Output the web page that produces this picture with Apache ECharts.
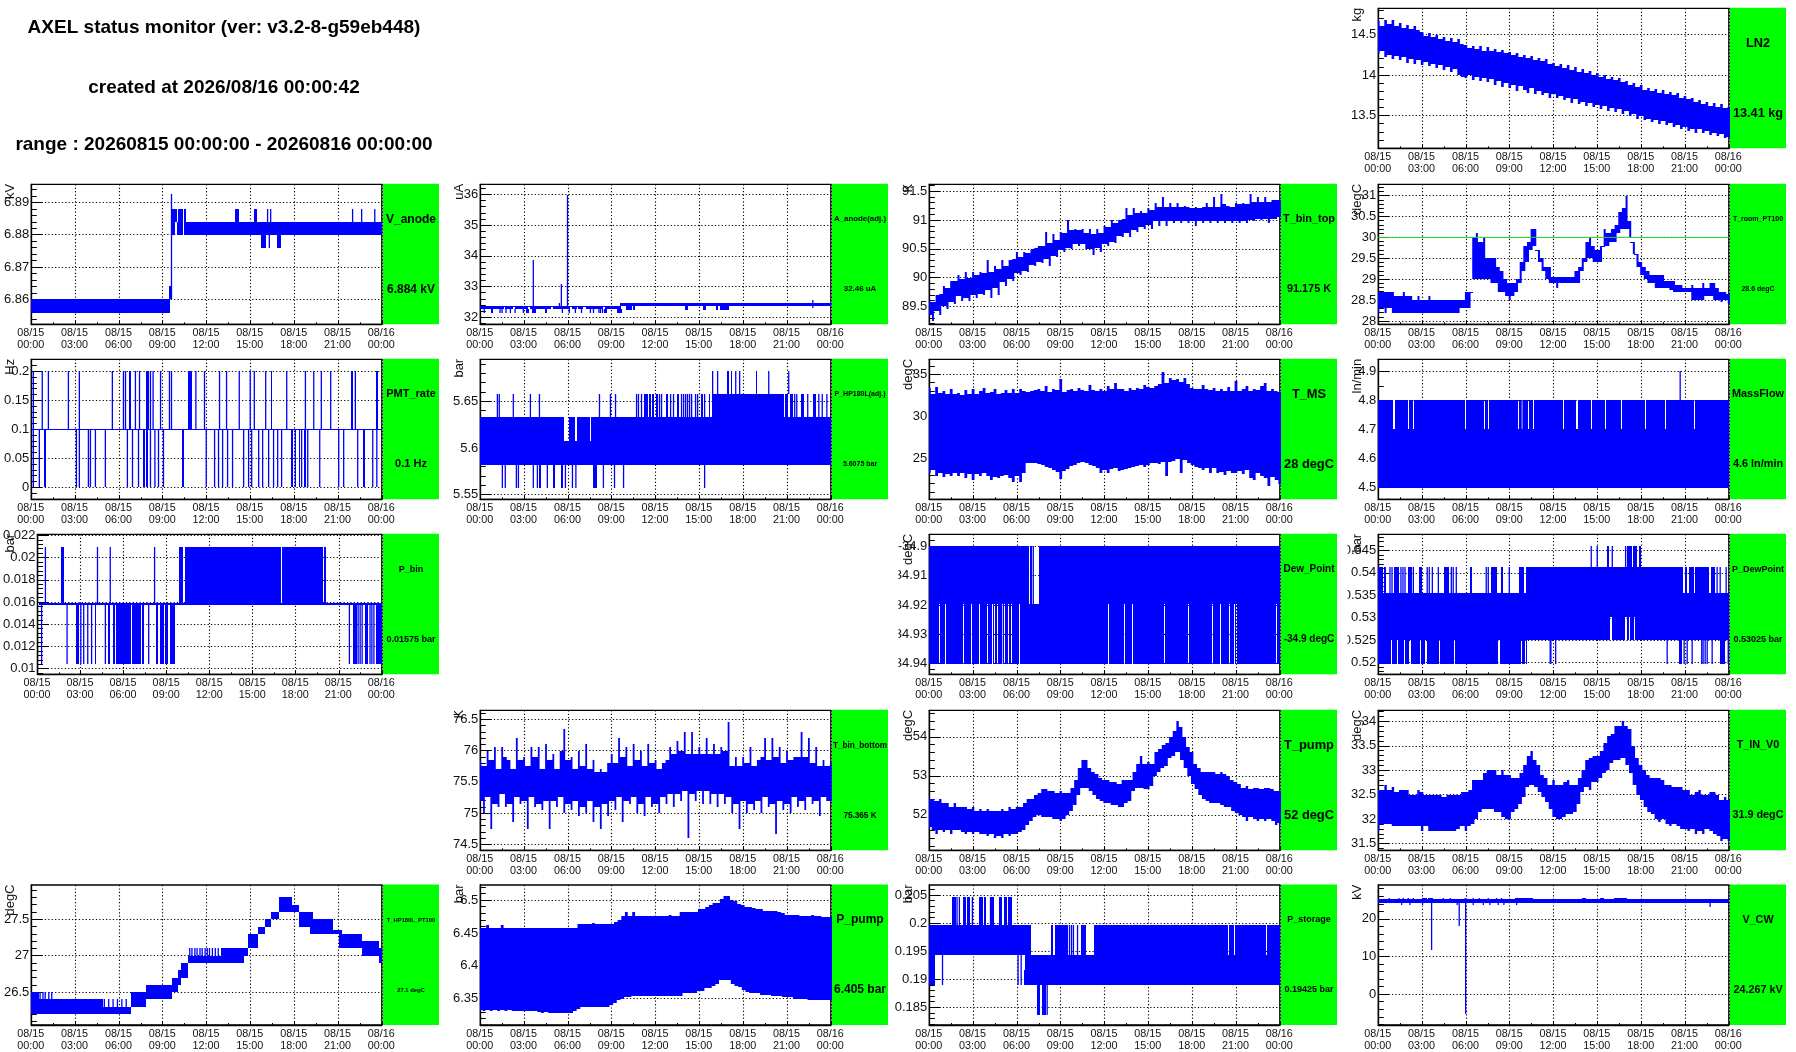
<!DOCTYPE html>
<html><head><meta charset="utf-8">
<style>html,body{margin:0;padding:0;background:#fff}#c{width:1796px;height:1052px}</style>
<script src="https://cdn.jsdelivr.net/npm/echarts@6/dist/echarts.min.js"></script>
</head><body><div id="c"></div>
<script>
// ---------- header and tick labels ----------
const headerLines = ["AXEL status monitor (ver: v3.2-8-g59eb448)","created at 2026/08/16 00:00:42","range : 20260815 00:00:00 - 20260816 00:00:00"];
const xDates = ["08/15","08/15","08/15","08/15","08/15","08/15","08/15","08/15","08/16"];
const xTimes = ["00:00","03:00","06:00","09:00","12:00","15:00","18:00","21:00","00:00"];

// ---------- envelope readings, one value every 15 minutes ----------
const LN2_hi=[14.66,14.60,14.68,14.63,14.67,14.60,14.64,14.58,14.62,14.57,14.60,14.55,
14.53,14.48,14.51,14.47,14.49,14.44,14.47,14.42,14.46,14.40,14.44,14.38,
14.37,14.33,14.36,14.32,14.35,14.30,14.34,14.29,14.32,14.28,14.31,14.27,
14.28,14.24,14.27,14.22,14.25,14.21,14.23,14.18,14.21,14.17,14.19,14.14,
14.15,14.11,14.13,14.09,14.12,14.06,14.10,14.04,14.07,14.02,14.05,14.00,
14.02,13.97,14.00,13.95,13.98,13.94,13.96,13.91,13.93,13.88,13.90,13.85,
13.87,13.82,13.84,13.80,13.83,13.78,13.81,13.76,13.79,13.75,13.78,13.72,
13.74,13.70,13.72,13.67,13.69,13.64,13.67,13.62,13.65,13.60,13.64,13.59,13.60];
const LN2_lo=[14.26,14.30,14.22,14.25,14.19,14.23,14.18,14.22,14.15,14.20,14.14,14.18,
14.12,14.16,14.11,14.14,14.08,14.12,14.06,14.10,14.03,14.07,14.00,13.98,
13.96,14.00,13.94,13.98,13.93,13.96,13.91,13.95,13.88,13.93,13.85,13.90,
13.84,13.88,13.80,13.86,13.82,13.78,13.84,13.76,13.80,13.75,13.78,13.72,
13.76,13.71,13.74,13.69,13.72,13.66,13.70,13.64,13.67,13.62,13.65,13.60,
13.63,13.58,13.62,13.56,13.59,13.54,13.58,13.52,13.55,13.50,13.52,13.46,
13.49,13.44,13.46,13.42,13.44,13.40,13.43,13.38,13.41,13.36,13.38,13.34,
13.36,13.31,13.34,13.29,13.33,13.28,13.31,13.26,13.29,13.25,13.27,13.22,13.24];
const T_room_hi=[28.7,28.7,28.7,28.7,28.7,28.6,28.6,28.7,28.6,28.6,28.5,28.6,
28.5,28.5,28.6,28.5,28.5,28.5,28.5,28.5,28.5,28.5,28.5,28.5,
28.7,28.7,30.0,30.1,29.9,30.0,29.5,29.5,29.5,29.3,29.2,29.0,
28.9,28.9,29.0,29.4,29.8,29.9,30.2,30.2,29.7,29.5,29.3,29.3,
29.05,29.05,29.05,29.05,29.05,29.05,29.2,29.3,29.5,29.9,30.0,29.8,
29.7,29.8,30.2,30.1,30.2,30.3,30.6,30.7,31.0,30.4,29.9,29.6,
29.4,29.3,29.2,29.1,29.1,29.1,29.1,28.95,28.95,28.95,28.85,28.85,
28.8,28.8,28.85,28.8,28.8,28.9,28.8,28.9,28.9,28.8,28.7,28.7,28.65];
const T_room_lo=[28.2,28.3,28.2,28.3,28.2,28.2,28.2,28.2,28.2,28.2,28.2,28.2,
28.2,28.2,28.2,28.2,28.2,28.2,28.2,28.2,28.2,28.2,28.2,28.3,
28.3,28.3,29.0,29.0,29.0,29.0,29.0,28.9,28.9,28.7,28.7,28.6,
28.5,28.6,28.7,28.9,29.2,29.4,29.7,29.8,29.4,29.2,29.0,28.9,
28.9,28.8,28.9,28.9,28.9,28.9,28.9,28.9,29.2,29.4,29.5,29.4,
29.4,29.4,29.8,29.8,29.9,29.9,30.1,30.2,30.2,30.0,29.6,29.3,
29.1,29.0,28.9,28.9,28.8,28.8,28.8,28.8,28.75,28.7,28.7,28.7,
28.7,28.7,28.5,28.5,28.5,28.5,28.6,28.6,28.5,28.5,28.45,28.5,28.4];
const T_pump_hi=[52.4,52.4,52.35,52.4,52.3,52.3,52.2,52.3,52.2,52.2,52.2,52.15,
52.2,52.1,52.15,52.1,52.15,52.1,52.1,52.1,52.15,52.1,52.2,52.15,
52.2,52.2,52.3,52.4,52.4,52.5,52.55,52.65,52.65,52.6,52.6,52.55,
52.6,52.55,52.55,52.7,52.9,53.2,53.4,53.4,53.2,53.1,53.05,52.95,
52.9,52.9,52.85,52.85,52.8,52.9,52.9,52.9,53.1,53.3,53.5,53.3,
53.35,53.3,53.6,53.7,53.8,53.85,54.0,54.15,54.4,54.25,54.0,53.75,
53.6,53.3,53.2,53.1,53.1,53.1,53.1,53.05,53.1,53.05,53.0,52.9,
52.85,52.8,52.7,52.75,52.65,52.7,52.7,52.65,52.7,52.7,52.65,52.6,52.6];
const T_pump_lo=[51.7,51.6,51.5,51.6,51.55,51.6,51.5,51.6,51.6,51.55,51.5,51.55,
51.5,51.55,51.5,51.5,51.45,51.5,51.4,51.45,51.4,51.5,51.45,51.5,
51.5,51.55,51.6,51.75,51.85,51.95,52.0,51.95,51.95,51.95,51.9,51.9,
51.85,51.9,52.0,52.1,52.25,52.5,52.7,52.7,52.6,52.5,52.4,52.35,
52.3,52.3,52.25,52.25,52.2,52.2,52.3,52.35,52.6,52.7,52.7,52.65,
52.65,52.75,53.0,53.1,53.2,53.25,53.45,53.5,53.6,53.4,53.2,53.0,
52.8,52.65,52.5,52.4,52.35,52.3,52.3,52.3,52.25,52.2,52.2,52.1,
52.05,52.0,51.95,51.85,51.95,51.9,51.85,51.9,51.85,51.9,51.85,51.75,51.8];
const T_IN_hi=[32.6,32.6,32.7,32.6,32.65,32.55,32.6,32.6,32.6,32.5,32.5,32.6,
32.55,32.5,32.5,32.5,32.5,32.5,32.45,32.5,32.5,32.5,32.5,32.55,
32.55,32.6,32.8,32.8,32.8,32.95,33.0,33.0,33.0,32.9,33.0,32.9,
32.9,32.85,32.85,32.95,33.1,33.3,33.4,33.2,33.1,32.9,32.85,32.7,
32.8,32.7,32.7,32.75,32.8,32.7,32.7,32.85,33.0,33.2,33.25,33.3,
33.3,33.4,33.55,33.7,33.75,33.9,33.9,34.0,33.9,33.85,33.5,33.25,
33.1,33.0,32.9,32.85,32.85,32.85,32.8,32.7,32.7,32.65,32.65,32.65,
32.6,32.6,32.5,32.55,32.6,32.5,32.5,32.55,32.55,32.5,32.4,32.45,32.4];
const T_IN_lo=[31.75,31.9,31.9,31.9,31.85,31.85,31.85,31.85,31.85,31.85,31.85,31.85,
31.75,31.85,31.75,31.75,31.75,31.75,31.75,31.75,31.75,31.75,31.8,31.85,
31.75,31.85,31.9,32.0,32.15,32.2,32.2,32.2,32.15,32.15,32.05,32.0,
32.0,32.15,32.2,32.3,32.45,32.65,32.7,32.65,32.55,32.45,32.35,32.2,
32.05,32.0,32.0,32.05,32.1,32.1,32.15,32.3,32.55,32.65,32.6,32.75,
32.75,32.85,32.95,33.0,33.15,33.2,33.2,33.25,33.1,32.95,32.7,32.5,
32.4,32.25,32.15,32.1,32.0,31.95,32.0,31.9,31.85,31.9,31.85,31.8,
31.8,31.75,31.8,31.7,31.75,31.7,31.8,31.75,31.7,31.65,31.55,31.6,31.55];
const T_top_hi=[89.6,89.58,89.7,89.72,89.85,89.82,89.95,89.95,90.05,89.98,90.1,90.0,
90.1,90.05,90.1,90.08,90.3,90.1,90.2,90.15,90.3,90.2,90.3,90.32,
90.45,90.35,90.45,90.42,90.5,90.52,90.55,90.55,90.8,90.6,90.75,90.65,
90.8,90.78,91.0,90.82,90.85,90.82,90.85,90.78,90.85,90.75,90.85,90.78,
90.9,90.88,91.0,90.95,91.0,91.02,91.2,91.08,91.2,91.12,91.15,91.12,
91.2,91.18,91.3,91.22,91.4,91.22,91.3,91.22,91.3,91.22,91.25,91.22,
91.2,91.22,91.2,91.22,91.3,91.22,91.4,91.22,91.45,91.28,91.25,91.22,
91.3,91.28,91.3,91.28,91.45,91.32,91.4,91.32,91.4,91.32,91.35,91.35,91.35];
const T_top_lo=[89.35,89.25,89.42,89.35,89.5,89.45,89.58,89.55,89.68,89.6,89.65,89.6,
89.7,89.65,89.72,89.7,89.78,89.65,89.82,89.7,89.92,89.85,89.98,89.95,
90.08,90.05,90.12,90.1,90.22,90.2,90.28,90.25,90.32,90.2,90.38,90.35,
90.48,90.45,90.52,90.5,90.58,90.55,90.58,90.5,90.5,90.4,90.52,90.45,
90.58,90.55,90.62,90.6,90.72,90.7,90.78,90.7,90.82,90.8,90.88,90.85,
90.92,90.85,90.98,90.9,90.98,90.9,90.98,90.95,90.98,90.95,90.98,90.95,
90.98,90.9,90.98,90.95,90.98,90.95,90.98,90.95,90.98,90.95,90.98,90.95,
90.98,90.95,90.98,90.95,91.0,90.98,91.02,91.0,91.02,90.95,91.02,91.02,91.05];
const T_MS_hi=[33.4,32.6,33.5,32.8,33.0,32.7,33.3,32.6,32.8,32.5,33.1,32.6,
33.2,32.7,33.0,33.4,32.8,32.9,33.3,32.7,32.8,33.1,32.8,33.3,
32.8,33.3,33.0,32.9,33.0,33.1,33.2,33.0,33.6,32.9,33.2,33.1,
34.4,32.9,33.1,33.2,33.0,33.4,33.1,33.0,33.7,33.1,33.0,33.3,
33.0,33.6,33.2,34.0,33.3,33.2,33.0,33.4,33.1,33.4,33.2,33.7,
33.5,33.4,33.6,33.9,35.3,34.0,34.6,34.3,34.4,34.1,34.6,33.9,
33.4,33.3,33.2,33.7,33.3,33.1,33.4,33.0,33.2,33.0,33.5,33.0,
34.2,33.0,33.2,33.6,33.0,33.3,33.1,33.6,34.0,33.0,33.2,33.0,32.9];
const T_MS_lo=[23.3,23.6,22.9,23.3,22.8,23.1,22.9,23.2,22.9,23.2,22.7,23.1,
22.4,23.1,22.9,23.3,22.9,22.4,22.8,22.7,22.9,23.0,22.6,22.2,
22.9,22.2,23.3,24.4,24.4,24.4,24.3,24.2,24.0,23.8,23.6,23.4,
22.5,23.5,23.7,24.1,24.2,24.5,24.6,24.5,24.2,24.1,23.9,23.3,
23.6,23.2,23.7,23.8,23.5,23.6,23.7,23.9,24.0,24.1,24.2,24.0,
24.2,24.5,24.5,24.3,24.6,22.9,24.6,24.7,24.9,23.3,24.8,24.4,
24.2,24.0,23.9,23.6,23.8,23.3,23.8,23.2,23.4,23.0,23.5,23.3,
23.2,23.5,23.1,23.6,22.7,22.4,23.2,22.9,22.6,21.7,22.8,22.4,22.0];
const P_pump_hi=[6.458,6.458,6.462,6.458,6.458,6.458,6.462,6.458,6.458,6.458,6.458,6.458,
6.458,6.457,6.458,6.457,6.458,6.457,6.458,6.457,6.458,6.457,6.458,6.458,
6.458,6.458,6.458,6.464,6.464,6.464,6.464,6.465,6.464,6.464,6.464,6.464,
6.464,6.466,6.470,6.476,6.482,6.476,6.482,6.476,6.476,6.476,6.476,6.476,
6.476,6.476,6.476,6.476,6.478,6.476,6.476,6.482,6.482,6.482,6.482,6.482,
6.487,6.487,6.490,6.492,6.496,6.496,6.502,6.506,6.506,6.500,6.498,6.494,
6.492,6.490,6.490,6.488,6.486,6.486,6.484,6.484,6.484,6.484,6.482,6.480,
6.478,6.478,6.478,6.478,6.476,6.476,6.476,6.478,6.476,6.476,6.474,6.474,6.474];
const P_pump_lo=[6.333,6.331,6.333,6.331,6.333,6.331,6.333,6.331,6.333,6.331,6.331,6.331,
6.331,6.331,6.331,6.331,6.330,6.329,6.330,6.329,6.328,6.329,6.328,6.329,
6.328,6.329,6.331,6.335,6.337,6.337,6.337,6.337,6.337,6.337,6.337,6.338,
6.340,6.343,6.348,6.350,6.352,6.352,6.354,6.354,6.354,6.354,6.354,6.354,
6.354,6.354,6.354,6.354,6.354,6.354,6.354,6.354,6.358,6.358,6.358,6.358,
6.362,6.362,6.366,6.366,6.370,6.372,6.378,6.378,6.378,6.372,6.370,6.368,
6.364,6.360,6.358,6.358,6.358,6.356,6.356,6.356,6.354,6.354,6.354,6.352,
6.352,6.352,6.350,6.350,6.350,6.350,6.348,6.348,6.348,6.348,6.348,6.348,6.348];
const T_bot_hi=[75.85,75.75,76.0,75.85,76.05,75.7,76.05,75.9,75.85,75.7,76.2,75.85,
75.9,75.75,76.05,75.9,76.05,75.7,76.1,75.85,75.95,75.7,76.0,76.35,
75.85,75.9,75.7,76.0,75.75,76.1,75.7,75.85,75.65,75.7,75.65,75.8,
75.95,75.8,76.2,75.9,76.05,75.75,76.1,75.85,76.0,75.75,76.1,75.8,
75.85,75.7,75.8,75.85,76.05,75.95,76.15,76.0,76.3,75.95,76.3,75.95,
76.05,75.95,76.2,75.95,76.1,75.95,76.05,76.0,76.45,75.75,75.9,75.75,
75.9,75.8,76.05,75.75,75.85,75.9,76.2,75.85,76.2,75.9,76.05,75.8,
76.0,75.85,75.9,75.9,76.3,75.9,76.2,75.8,76.05,75.75,75.85,75.75,75.8];
const T_bot_lo=[75.2,75.0,75.25,74.75,75.15,75.1,75.3,75.1,75.15,74.85,75.25,75.15,
75.2,74.75,75.25,75.1,75.15,75.05,75.2,74.75,75.2,75.1,75.25,75.0,
75.15,75.05,75.2,74.95,75.1,75.0,75.2,74.85,75.1,74.75,75.15,74.95,
75.2,75.05,75.25,74.85,75.2,75.15,75.25,75.0,75.15,74.95,75.25,75.1,
75.15,75.0,75.25,75.15,75.3,75.1,75.3,75.2,75.35,74.6,75.3,75.2,
75.35,75.15,75.35,75.15,75.3,75.1,75.3,75.15,75.25,75.0,75.15,74.75,
75.2,75.0,75.15,75.05,75.2,75.0,75.25,75.1,75.15,74.67,75.2,75.05,
75.15,75.0,75.25,75.1,75.2,75.05,75.25,75.15,75.2,74.95,75.25,75.2,75.2];

// ---------- level switching readings: hour, or [from,to] hour ----------
const V_anode_low=[[0,9.51]];
const V_anode_step=[[9.43,9.62]];
const V_anode_main=[[9.62,9.86],[9.98,10.4],[10.46,24]];
const V_anode_up=[[9.62,9.96],[10.03,10.4],[10.46,10.6],[13.97,14.24],[15.27,15.47],[16.18],[16.39],[22.0],[22.62],[23.52]];
const V_anode_down=[[15.75,16.1],[16.3],[16.85,17.12]];
const PMT_up=[.14,.75,1.17,2.54,3.29,5.55,6.31,6.45,[6.72,6.83],7.13,7.41,[7.86,8.07],8.16,8.34,8.85,9.46,9.6,[10.7,11.02],11.27,11.86,12.89,13.37,14.24,14.99,15.27,16.05,[16.39,16.5],17.49,18.77,19.34,19.86,20.5,[21.92,22.06],22.19,[23.59,23.75]];
const PMT_down=[.14,.55,[.89,.98],3.09,3.29,3.91,4.05,4.39,5.07,6.58,6.93,7.34,[7.68,7.78],[7.86,8.02],8.16,[8.43,8.5],8.71,9.05,[10.35,10.47],11.98,12.55,12.82,13.1,13.44,13.78,14.54,14.88,15.09,15.57,15.84,16.25,16.59,16.87,17.14,[17.76,17.9],18.08,[18.31,18.4],18.51,[18.65,18.79],18.93,19.75,21.05,21.39,22.35,[22.7,22.83],23.38,23.66];
const PMT_line=[[.1,24]];
const A_upper=[[0,9.6]];
const A_lower_early=[[0,1.62],[1.69,2.26],[2.38,2.49],[2.54,3.27],[3.41,4.87],[4.96,6.15],[6.29,6.63],[6.72,7.06],[7.25,8.39],[8.57,9.6]];
const A_below_early=[.27,[.73,.87],1.35,1.49,1.76,2.06,2.38,2.95,[3.13,3.34],[3.57,3.82],[4.46,4.59],5.62,6.1,6.51,6.93,7.54,7.75,[8.09,8.16],8.23,8.37,[8.5,8.66],[9.39,9.67]];
const A_band_late=[[9.58,24]];
const A_below_late=[[10.01,10.42],[10.49,10.61],[13.99,14.24],[15.22,15.47],[16.16,16.3],[16.39,17.05]];
const A_spike_hours=[3.63,5.42,5.55,5.97,22.77];
const A_spike_tops=[33.86,32.48,33.08,35.99,32.56];
const HP_mid_left=[[0,24]];
const HP_mid_right=[[0,5.76],[6.1,6.51],[6.63,7.54],[7.61,8.37],[8.41,24]];
const HP_upper=[1.17,1.30,2.26,3.43,4.05,8.16,8.91,9.26,10.7,10.83,11.04,[11.18,11.45],[11.52,11.66],[11.73,11.86],[12,12.14],12.27,12.41,[12.69,12.82],13.03,13.23,[13.44,13.58],13.78,13.92,14.06,14.19,14.33,14.47,14.74,14.88,[15.09,15.22],15.36,[15.63,15.75],[15.84,20.78],[20.85,21.05],[21.19,21.39],21.53,21.67,[21.94,22.15],22.42,[22.77,22.97],23.18,[23.38,23.45],23.73];
const HP_top=[15.91,16.25,[16.87,17.0],[17.14,17.26],17.49,17.76,[18.86,18.97],19.75,21.12];
const HP_lower=[1.51,1.71,2.47,2.61,3.63,3.91,[4.05,4.18],4.59,[5.0,5.14],[5.55,5.69],5.83,6.31,[6.51,6.58],[7.75,8.02],8.43,9.19,9.81,15.36];
const Mass_gaps=[[1.0,1.12],1.69,2.05,2.4,5.95,7.25,7.53,9.58,9.77,9.9,10.27,10.61,12.66,[13.55,13.67],14.58,15.54,16.63,18.27,19.64,21.63];
const Mass_top=[20.67];
const Pbin_up=[.55,[1.62,1.83],4.18,5.07,8.16,[9.85,10.13],[10.26,16.96],[17.05,19.93],[20,20.14]];
const Pbin_down=[[.25,.32],2.06,[2.67,2.86],3.02,3.22,3.5,3.77,[3.98,4.09],4.73,[4.94,5.07],[5.28,5.42],[5.49,6.51],[6.58,7.2],[7.27,7.41],7.75,[8.23,8.43],[8.57,8.85],[8.91,9.12],[9.26,9.58],21.74,[22.01,22.29],22.35,22.49,22.63,[22.83,23.04],23.18,23.31,23.45,[23.59,24]];
const Pbin_line=[[.12,24]];
const Dew_upper_gaps=[[6.83,6.9],[7.02,7.09],[7.15,7.52]];
const Dew_lower_gaps=[.69,1.1,2.33,[2.88,2.95],3.43,[3.98,4.05],4.32,4.47,4.65,5.0,5.14,5.41,5.62,[6.17,6.24],12.27,13.37,13.92,16.11,17.76,19.4,19.95,20.57,[20.84,20.9],21.05,[23.77,23.84]];
const PDew_top=[14.58,14.99,[15.67,15.81],16.02,[16.9,16.97],[17.04,17.39],[17.45,17.73],[17.86,18.02]];
const PDew_upper=[[0,.34],[.41,.52],.8,.94,[1.07,1.41],1.55,1.69,1.83,[2.05,2.33],2.4,[2.81,3.01],3.35,3.49,3.7,4.11,[4.52,4.86],5.0,5.13,5.34,[6.3,6.43],7.39,7.53,[7.73,8.15],[8.42,8.56],8.97,[9.65,10.0],[10.1,20.88],[21.01,21.15],[21.29,21.63],[21.7,22.66],[22.79,23.07],23.2,23.41,23.82];
const PDew_main=[[0,24]];
const PDew_mid_gaps=[[15.87,16.0],[16.9,17.04],[17.18,17.25],[17.34,17.4],[17.5,17.57]];
const PDew_lower=[[0,.87],[.96,1.28],[1.37,1.76],[1.85,2.12],[2.21,2.85],[2.94,3.22],[3.33,4.13],[4.22,5.18],[5.27,8.19],[8.33,9.77],[9.86,10.04],[10.11,10.2],11.77,11.82,[12.11,12.18],19.78,[20.6,20.81],20.94,21.15,21.49,[22.11,22.18],22.24,22.38,22.52,22.86,[23.41,23.75],23.96];
const Store_top=[[1.55,1.83],1.9,2.06,[2.31,2.54],[2.61,2.81],2.95,[3.41,3.7],[3.77,3.91],4.19,[4.25,4.46],[4.8,5],[5.14,5.35],[5.42,5.67]];
const Store_upper=[[0,6.97],[8.34,8.48],[8.62,9.53],9.6,9.74,9.87,10.15,[10.42,10.7],[11.25,20.43],[20.5,20.84],[20.9,23.08],[23.15,24]];
const Store_lower=[[0,.39],[.87,.94],6.08,6.29,[6.56,24]];
const Store_half=[[6.47,6.56]];
const Store_bottom=[[7.38,7.61],[7.73,8.0],8.07];
const CW_main=[[0,24]];
const CW_up=[.75,1.41,1.71,2.05,2.4,[2.97,3.31],[3.42,3.76],4.45,4.93,5.95,6.5,6.91,7.53,8.1,8.44,[9.38,10.61],[13.96,14.21],[15.17,15.45],[16.15,17.0]];
const CW_down=[1.6,2.17,3.03,5.4,6.5,7.19,7.64,8.21,8.6,9.47];
const CW_spike_hours=[3.65,5.54,5.98,22.72];
const CW_spike_bottoms=[11.8,18.2,-5.2,23.2];
// T_HP180L_PT100: from hour, to hour, low, high
const THP_steps=[[0,.5,26.2,26.5],[.5,1.46,26.2,26.4],[1.46,4.92,26.2,26.4],[4.92,6.81,26.2,26.3],[6.81,7.87,26.3,26.5],[7.87,9.65,26.4,26.6],[9.65,10.04,26.5,26.7],[10.04,10.28,26.6,26.8],[10.28,10.7,26.7,26.9],[10.7,14.57,26.9,27.0],[13,14.57,27.0,27.1],[14.57,14.84,27.0,27.1],[14.84,15.55,27.1,27.3],[15.55,16.02,27.3,27.4],[16.02,16.42,27.4,27.5],[16.42,16.93,27.5,27.6],[16.93,17.83,27.6,27.8],[17.83,18.3,27.6,27.7],[18.3,19.29,27.4,27.6],[19.09,20.67,27.3,27.5],[20.67,21.26,27.3,27.35],[21.06,22.64,27.1,27.3],[22.64,23.82,27.0,27.2],[23.82,24,26.9,27.1]];
const THP_spike_hours=[.6,.8,.95,1.2,1.4,5.0,5.3,5.6,5.9,6.2,6.5,10.85,11.0,11.2,11.35,11.55,11.7,11.9,12.05,12.2,12.4,12.6,12.8];
const THP_spike_lows=[26.4,26.4,26.4,26.4,26.4,26.3,26.3,26.3,26.3,26.3,26.3,27,27,27,27,27,27,27,27,27,27,27,27];
const THP_spike_highs=[26.5,26.5,26.5,26.5,26.5,26.4,26.4,26.4,26.4,26.4,26.4,27.1,27.1,27.1,27.1,27.1,27.1,27.1,27.1,27.1,27.1,27.1,27.1];
const T_room_limit=[[0,30],[24,30]];

// ---------- y tick values ----------
const LN2_ticks=[13.5,14,14.5], V_anode_ticks=[6.86,6.87,6.88,6.89], A_ticks=[32,33,34,35,36], T_top_ticks=[89.5,90,90.5,91,91.5], T_room_ticks=[28,28.5,29,29.5,30,30.5,31];
const PMT_ticks=[0,.05,.1,.15,.2], HP_ticks=[5.55,5.6,5.65], T_MS_ticks=[25,30,35], Mass_ticks=[4.5,4.6,4.7,4.8,4.9];
const Pbin_ticks=[.01,.012,.014,.016,.018,.02,.022], Dew_ticks=[-34.94,-34.93,-34.92,-34.91,-34.9], PDew_ticks=[.52,.525,.53,.535,.54,.545];
const T_bot_ticks=[74.5,75,75.5,76,76.5], T_pump_ticks=[52,53,54], T_IN_ticks=[31.5,32,32.5,33,33.5,34];
const THP_ticks=[26.5,27,27.5], P_pump_ticks=[6.35,6.4,6.45,6.5], Store_ticks=[.185,.19,.195,.2,.205], CW_ticks=[0,10,20];

// ---------- helpers turning readings into drawn marks ----------
function band(list,lo,hi){return list.map(t=>Array.isArray(t)?[t[0],t.length>1?t[1]:t[0],lo,hi]:[t,t,lo,hi]);}
function solidExcept(gaps,lo,hi){
  const out=[];let s=0;const w=.03;
  gaps.forEach(g=>{const a=Array.isArray(g)?g[0]:g-w,b=Array.isArray(g)?g[1]:g+w;out.push([s,a,lo,hi]);s=b;});
  out.push([s,24,lo,hi]);return out;
}
function envelope(lo,hi){
  const out=[],n=lo.length,d=24/(n-1);
  for(let i=0;i<n;i++){
    const t=i*d;
    out.push([t,t,lo[i],hi[i]]);
    if(i<n-1)out.push([t,t+d,Math.max(lo[i],lo[i+1]),Math.min(hi[i],hi[i+1])]);
  }
  return out;
}
const zipSpikes=(ts,los,his)=>ts.map((t,i)=>[t,t,los[i],his[i]]);

// ---------- panels: column, row, unit, name, value, text size, y range, minor step, ticks, marks ----------
const cols=[31.3,480.3,929.3,1378.3];
const tops=[8.3,184.3,359.3,534.3,710.3,885];
const panels=[
 {c:3,r:0,u:"kg",n:"LN2",v:"13.41 kg",fs:12.7,sw:2.6,y:[13.097,14.82],m:.1,t:LN2_ticks,d:envelope(LN2_lo,LN2_hi)},
 {c:0,r:1,u:"kV",n:"V_anode",v:"6.884 kV",fs:12,y:[6.8523,6.8956],m:.002,t:V_anode_ticks,d:[...band(V_anode_low,6.8559,6.86),...band(V_anode_step,6.86,6.864),...band([9.6],6.86,6.8927),...band(V_anode_main,6.88,6.884),...band(V_anode_up,6.884,6.888),...band(V_anode_down,6.876,6.88)]},
 {c:1,r:1,u:"uA",n:"A_anode(adj.)",v:"32.46 uA",fs:7.9,y:[31.77,36.33],m:.2,t:A_ticks,d:[...band(A_upper,32.32,32.37),...band(A_lower_early,32.26,32.32),...band(A_below_early,32.15,32.26),...band(A_band_late,32.35,32.47),...band(A_below_late,32.25,32.35),...zipSpikes(A_spike_hours,A_spike_hours.map(()=>32.3),A_spike_tops)]},
 {c:2,r:1,u:"K",n:"T_bin_top",v:"91.175 K",fs:10.9,sw:2,y:[89.19,91.62],m:.1,t:T_top_ticks,d:envelope(T_top_lo,T_top_hi)},
 {c:3,r:1,u:"degC",n:"T_room_PT100",v:"28.6 degC",fs:7,sw:2,y:[27.92,31.27],m:.1,t:T_room_ticks,d:envelope(T_room_lo,T_room_hi),limit:T_room_limit},
 {c:0,r:2,u:"Hz",n:"PMT_rate",v:"0.1 Hz",fs:11,y:[-.0207,.2207],m:.01,t:PMT_ticks,d:[...band(PMT_line,.0995,.1005),...band(PMT_up,.1,.2),...band(PMT_down,0,.1)]},
 {c:1,r:2,u:"bar",n:"P_HP180L(adj.)",v:"5.6075 bar",fs:7,y:[5.545,5.695],m:.01,t:HP_ticks,d:[...band(HP_mid_left,5.582,5.6075),...band(HP_mid_right,5.6075,5.633),...band(HP_upper,5.633,5.658),...band(HP_top,5.658,5.682),...band(HP_lower,5.557,5.582)]},
 {c:2,r:2,u:"degC",n:"T_MS",v:"28 degC",fs:12.8,sw:2.8,y:[20.12,36.79],m:1,t:T_MS_ticks,d:envelope(T_MS_lo,T_MS_hi)},
 {c:3,r:2,u:"ln/min",n:"MassFlow",v:"4.6 ln/min",fs:10.9,y:[4.46,4.941],m:.05,t:Mass_ticks,d:[...band([[0,24]],4.5,4.7),...solidExcept(Mass_gaps,4.7,4.8),...band(Mass_top,4.8,4.9)]},
 {c:0,r:3,u:"bar",n:"P_bin",v:"0.01575 bar",fs:9,y:[.00949,.0221],m:.0004,t:Pbin_ticks,d:[...band(Pbin_line,.0157,.0159),...band(Pbin_up,.0158,.021),...band(Pbin_down,.01045,.0158)]},
 {c:2,r:3,u:"degC",n:"Dew_Point",v:"-34.9 degC",fs:10,y:[-34.9436,-34.8959],m:.002,t:Dew_ticks,d:[...solidExcept(Dew_upper_gaps,-34.9197,-34.9),...solidExcept(Dew_lower_gaps,-34.94,-34.9197)]},
 {c:3,r:3,u:"bar",n:"P_DewPoint",v:"0.53025 bar",fs:9,y:[.5174,.5486],m:.001,t:PDew_ticks,d:[...band(PDew_main,.5301,.5355),...solidExcept(PDew_mid_gaps,.525,.5301),...band(PDew_upper,.5355,.5413),...band(PDew_top,.5413,.5459),...band(PDew_lower,.5197,.525)]},
 {c:1,r:4,u:"K",n:"T_bin_bottom",v:"75.365 K",fs:8.2,sw:1.8,y:[74.404,76.644],m:.1,t:T_bot_ticks,d:envelope(T_bot_lo,T_bot_hi)},
 {c:2,r:4,u:"degC",n:"T_pump",v:"52 degC",fs:12.8,sw:2.4,y:[51.09,54.68],m:.2,t:T_pump_ticks,d:envelope(T_pump_lo,T_pump_hi)},
 {c:3,r:4,u:"degC",n:"T_IN_V0",v:"31.9 degC",fs:10.8,sw:2.4,y:[31.363,34.225],m:.1,t:T_IN_ticks,d:envelope(T_IN_lo,T_IN_hi)},
 {c:0,r:5,u:"degC",n:"T_HP180L_PT100",v:"27.1 degC",fs:5.8,y:[26.05,27.97],m:.1,t:THP_ticks,d:[...THP_steps,...zipSpikes(THP_spike_hours,THP_spike_lows,THP_spike_highs)]},
 {c:1,r:5,u:"bar",n:"P_pump",v:"6.405 bar",fs:12,sw:2.8,y:[6.31,6.523],m:.01,t:P_pump_ticks,d:envelope(P_pump_lo,P_pump_hi)},
 {c:2,r:5,u:"bar",n:"P_storage",v:"0.19425 bar",fs:9,y:[.18185,.2068],m:.001,t:Store_ticks,d:[...band(Store_upper,.1943,.1996),...band(Store_lower,.1889,.1943),...band(Store_half,.1889,.1917),...band(Store_top,.1996,.2047),...band(Store_bottom,.1837,.1889)]},
 {c:3,r:5,u:"kV",n:"V_CW",v:"24.267 kV",fs:10.8,y:[-8.18,28.98],m:2,t:CW_ticks,d:[...band(CW_main,24.09,25.15),...band(CW_up,25.15,25.6),...band(CW_down,23.6,24.09),...zipSpikes(CW_spike_hours,CW_spike_bottoms,CW_spike_hours.map(()=>24.2))]}
];

const FONT="'Liberation Sans',Arial,sans-serif";
const W=350.5,H=140;
const grid=[],xAxis=[],yAxis=[],series=[],graphic=[];
function minors(p){const a=[],s=p.m;for(let k=Math.ceil(p.y[0]/s);k*s<=p.y[1];k++){const v=+(k*s).toFixed(6);if(!p.t.some(t=>Math.abs(t-v)<s/10))a.push(v);}return a;}
const makeRender=sw=>(params,api)=>{
  const t0=api.value(0),t1=api.value(1),lo=api.value(2),hi=api.value(3);
  const a=api.coord([t0,lo]),b=api.coord([t1,hi]);
  let w=b[0]-a[0],x=a[0];
  if(w<1.25){x=a[0]+w/2-sw/2;w=sw;}
  else{x=Math.round(a[0]);w=Math.max(Math.round(b[0])-x,1);}
  const y1=Math.round(b[1]),y0=Math.round(a[1]);
  const h=Math.max(y0-y1,1);
  return {type:'rect',shape:{x:x,y:y1,width:w,height:h},style:{fill:'#0000ff'},silent:true};
};
panels.forEach((p,i)=>{
  const L=cols[p.c],T=tops[p.r];
  grid.push({left:L,top:T,width:W,height:H,show:true,borderColor:'#000',borderWidth:1.3,backgroundColor:'transparent'});
  xAxis.push({type:'value',gridIndex:i,min:0,max:24,interval:3,position:'bottom',
    axisLine:{onZero:false,lineStyle:{color:'#000',width:1.3}},
    axisTick:{inside:true,length:4,lineStyle:{color:'#000',width:1}},
    minorTick:{show:true,splitNumber:2,length:2,lineStyle:{color:'#000',width:1}},
    splitLine:{show:true,lineStyle:{color:'#000',width:1.1,type:[1.2,2.2]}},
    axisLabel:{show:true,margin:3,fontFamily:FONT,fontSize:10.8,color:'#111',lineHeight:12,padding:[0,1,0,0],
      formatter:v=>xDates[v/3]+"\n"+xTimes[v/3]}});
  yAxis.push({type:'value',gridIndex:i,min:p.y[0],max:p.y[1],position:'left',
    axisLine:{onZero:false,show:true,lineStyle:{color:'#000',width:1.3}},
    axisTick:{inside:true,length:11,customValues:p.t,lineStyle:{color:'#000',width:1}},
    splitLine:{show:true,lineStyle:{color:'#000',width:1.1,type:[1.2,2.2]}},
    axisLabel:{show:true,margin:2,fontFamily:FONT,fontSize:13,color:'#111',customValues:p.t,formatter:v=>String(+(+v).toFixed(5))}});
  yAxis.push({type:'value',gridIndex:i,min:p.y[0],max:p.y[1],position:'left',
    axisLine:{onZero:false,show:false},
    axisTick:{inside:true,length:5.5,customValues:minors(p),lineStyle:{color:'#000',width:1}},
    splitLine:{show:false},axisLabel:{show:false}});
  series.push({type:'custom',name:p.n,xAxisIndex:i,yAxisIndex:2*i,data:p.d,clip:true,renderItem:makeRender(p.sw||1.3),encode:{x:[0,1],y:[2,3]},silent:true,z:3,animation:false});
  if(p.limit)series.push({type:'line',xAxisIndex:i,yAxisIndex:2*i,data:p.limit,symbol:'none',lineStyle:{color:'#22dd22',width:1},z:4,silent:true,animation:false});
  const gx=L+W+1.2,gw=56;
  graphic.push({type:'rect',z:5,shape:{x:gx,y:T-.5,width:gw,height:H+.5},style:{fill:'#00ff00'},silent:true});
  const txt=(s,y)=>({type:'text',z:6,x:gx+gw/2,y:T+y,style:{text:s,fontFamily:FONT,fontWeight:'bold',fontSize:p.fs,fill:'#000',align:'center',verticalAlign:'middle'},silent:true});
  graphic.push(txt(p.n,35),txt(p.v,105));
  graphic.push({type:'text',z:7,x:L-21,y:T-.5,rotation:Math.PI/2,style:{text:p.u,fontFamily:FONT,fontSize:13,fill:'#111',align:'right',verticalAlign:'middle'},silent:true});
});
// Pad edges cut long tick labels on their left side
graphic.push({type:'rect',z:8,shape:{x:889,y:520,width:9.5,height:165},style:{fill:'#fff'},silent:true});
graphic.push({type:'rect',z:8,shape:{x:1338,y:520,width:9.5,height:165},style:{fill:'#fff'},silent:true});
headerLines.forEach((s,i)=>graphic.push({type:'text',z:6,x:224,y:[28,88,145][i],style:{text:s,fontFamily:FONT,fontWeight:'bold',fontSize:19,fill:'#000',align:'center',verticalAlign:'middle'},silent:true}));

const chart=echarts.init(document.getElementById('c'),null,{renderer:'canvas'});
chart.setOption({animation:false,backgroundColor:'#fff',grid,xAxis,yAxis,series,graphic:{elements:graphic}});
</script></body></html>
